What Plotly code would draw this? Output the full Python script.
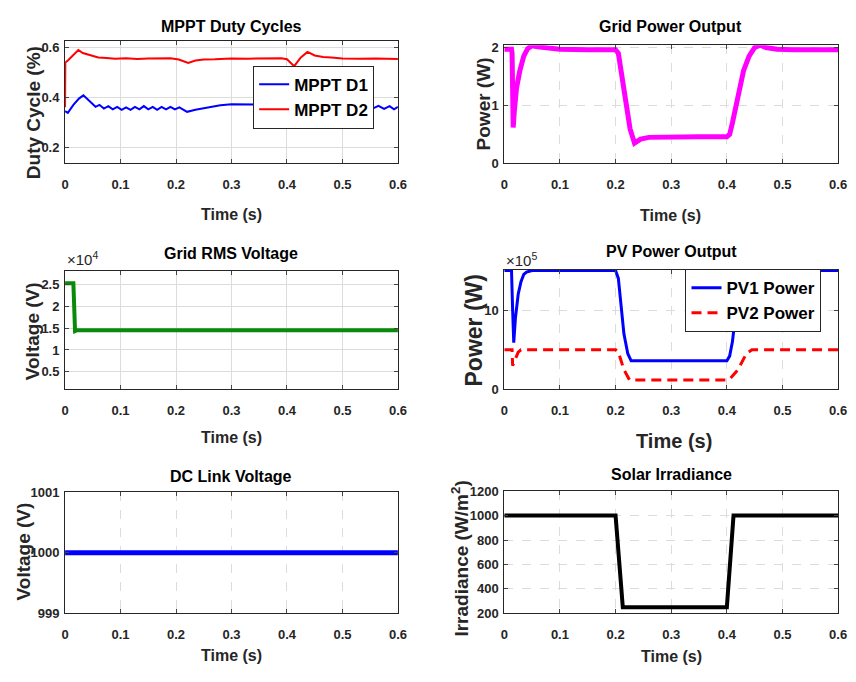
import plotly.graph_objects as go

W, H = 856, 682

# ---------------- data ----------------
t_d1 = [0, 0.005, 0.015, 0.025, 0.033, 0.045, 0.055, 0.062, 0.07, 0.078, 0.086, 0.094, 0.102, 0.11,
        0.118, 0.126, 0.134, 0.142, 0.15, 0.158, 0.166, 0.174, 0.182, 0.19, 0.198, 0.206, 0.214, 0.22,
        0.235, 0.25, 0.265, 0.28, 0.3, 0.32, 0.34, 0.36, 0.38, 0.4, 0.41, 0.42, 0.435, 0.45, 0.47, 0.49,
        0.51, 0.53, 0.545, 0.555, 0.565, 0.575, 0.585, 0.593, 0.6]
d1 = [0.345, 0.338, 0.37, 0.395, 0.408, 0.385, 0.362, 0.37, 0.355, 0.365, 0.352, 0.362, 0.35, 0.36,
      0.35, 0.362, 0.352, 0.365, 0.352, 0.362, 0.35, 0.362, 0.352, 0.362, 0.352, 0.36, 0.35, 0.342,
      0.35, 0.357, 0.363, 0.368, 0.372, 0.372, 0.37, 0.37, 0.372, 0.37, 0.36, 0.372, 0.38, 0.372, 0.368,
      0.365, 0.365, 0.362, 0.37, 0.356, 0.366, 0.354, 0.365, 0.352, 0.362]

t_d2 = [0, 0.0005, 0.005, 0.012, 0.024, 0.032, 0.04, 0.05, 0.06, 0.075, 0.09, 0.11, 0.13, 0.15, 0.17,
        0.19, 0.205, 0.222, 0.235, 0.25, 0.27, 0.3, 0.33, 0.36, 0.39, 0.4, 0.413, 0.425, 0.437, 0.45,
        0.465, 0.48, 0.5, 0.53, 0.56, 0.6]
d2 = [0.36, 0.54, 0.548, 0.565, 0.59, 0.578, 0.572, 0.565, 0.56, 0.558, 0.555, 0.557, 0.554, 0.556,
      0.555, 0.557, 0.552, 0.538, 0.548, 0.552, 0.553, 0.556, 0.555, 0.556, 0.557, 0.553, 0.525, 0.56,
      0.582, 0.568, 0.562, 0.56, 0.556, 0.555, 0.556, 0.554]

t_grid = [0, 0.013, 0.014, 0.016, 0.018, 0.022, 0.028, 0.035, 0.042, 0.05, 0.06, 0.08, 0.1, 0.15, 0.2,
          0.205, 0.21, 0.218, 0.226, 0.234, 0.245, 0.26, 0.3, 0.35, 0.4, 0.405, 0.41, 0.42, 0.43, 0.44,
          0.45, 0.46, 0.47, 0.49, 0.52, 0.6]
p_grid = [1.97, 1.97, 1.9, 0.62, 0.9, 1.3, 1.6, 1.85, 1.98, 2.03, 2.01, 1.98, 1.97, 1.96, 1.96, 1.9,
          1.6, 1.1, 0.6, 0.35, 0.42, 0.45, 0.46, 0.46, 0.46, 0.5, 0.7, 1.2, 1.6, 1.85, 2.0, 2.04, 2.0,
          1.97, 1.96, 1.96]

t_rms = [0, 0.015, 0.018, 0.022, 0.6]
v_rms = [2.52, 2.52, 1.43, 1.45, 1.45]

t_pv1 = [0, 0.013, 0.015, 0.017, 0.02, 0.025, 0.03, 0.035, 0.04, 0.05, 0.1, 0.2, 0.205, 0.21, 0.215,
         0.222, 0.228, 0.24, 0.3, 0.4, 0.405, 0.41, 0.415, 0.42, 0.43, 0.44, 0.447, 0.5, 0.6]
p_pv1 = [15, 15, 10, 5.9, 9, 12, 13.6, 14.5, 14.8, 15, 15, 15, 14, 10.5, 7, 4.5, 3.6, 3.6, 3.6, 3.6,
         4.2, 6, 9, 11, 13.5, 14.6, 15, 15, 15]

t_pv2 = [0, 0.014, 0.015, 0.02, 0.025, 0.03, 0.2, 0.205, 0.215, 0.225, 0.4, 0.405, 0.42, 0.435, 0.445, 0.6]
p_pv2 = [5, 5, 3.0, 3.8, 4.7, 5, 5, 4.7, 2.5, 1.2, 1.2, 1.3, 2.5, 4.5, 5, 5]

t_dc = [0, 0.6]
v_dc = [1000, 1000]

t_irr = [0, 0.2, 0.213, 0.4, 0.412, 0.6]
irr = [1000, 1000, 250, 250, 1000, 1000]

x_ticks = [0, 0.1, 0.2, 0.3, 0.4, 0.5, 0.6]
x_ticklabels = ["0", "0.1", "0.2", "0.3", "0.4", "0.5", "0.6"]

# ---------------- layout helpers ----------------
FONT = "Liberation Sans, Arial"


def px(x):
    return x / W


def py(y):
    return 1 - y / H


# axes boxes in pixels: (x0, x1, ytop, ybottom)
boxes = {
    1: (62, 400, 35, 160),
    2: (508, 847, 39, 160),
    3: (62, 400, 270, 391),
    4: (508, 847, 269, 391),
    5: (62, 400, 496, 620),
    6: (508, 847, 495, 620),
}

fig = go.Figure()

fig.add_trace(go.Scatter(x=t_d1, y=d1, mode="lines", name="MPPT D1",
                         line=dict(color="#0000FF", width=2), xaxis="x", yaxis="y", legend="legend"))
fig.add_trace(go.Scatter(x=t_d2, y=d2, mode="lines", name="MPPT D2",
                         line=dict(color="#FF0000", width=2), xaxis="x", yaxis="y", legend="legend"))
fig.add_trace(go.Scatter(x=t_grid, y=p_grid, mode="lines", name="Grid Power", showlegend=False,
                         line=dict(color="#FF00FF", width=5), xaxis="x2", yaxis="y2"))
fig.add_trace(go.Scatter(x=t_rms, y=v_rms, mode="lines", name="Grid RMS", showlegend=False,
                         line=dict(color="#0A8A0A", width=4), xaxis="x3", yaxis="y3"))
fig.add_trace(go.Scatter(x=t_pv1, y=p_pv1, mode="lines", name="PV1 Power",
                         line=dict(color="#0000FF", width=3), xaxis="x4", yaxis="y4", legend="legend2"))
fig.add_trace(go.Scatter(x=t_pv2, y=p_pv2, mode="lines", name="PV2 Power",
                         line=dict(color="#FF0000", width=3, dash="10px,6px"), xaxis="x4", yaxis="y4",
                         legend="legend2"))
fig.add_trace(go.Scatter(x=t_dc, y=v_dc, mode="lines", name="DC Link", showlegend=False,
                         line=dict(color="#0000FF", width=5), xaxis="x5", yaxis="y5"))
fig.add_trace(go.Scatter(x=t_irr, y=irr, mode="lines", name="Irradiance", showlegend=False,
                         line=dict(color="#000000", width=4), xaxis="x6", yaxis="y6"))

yconf = {
    1: dict(range=[0.135, 0.625], tickvals=[0.2, 0.4, 0.6], ticktext=["0.2", "0.4", "0.6"], griddash="solid"),
    2: dict(range=[0, 2.04], tickvals=[0, 1, 2], ticktext=["0", "1", "2"], griddash="dash"),
    3: dict(range=[0.1, 2.8], tickvals=[0.5, 1, 1.5, 2, 2.5], ticktext=["0.5", "1", "1.5", "2", "2.5"], griddash="solid"),
    4: dict(range=[0, 15.05], tickvals=[0, 10], ticktext=["0", "10"], griddash="dash"),
    5: dict(range=[999, 1001], tickvals=[999, 1000, 1001], ticktext=["999", "1000", "1001"], griddash="dash"),
    6: dict(range=[200, 1200], tickvals=[200, 400, 600, 800, 1000, 1200],
            ticktext=["200", "400", "600", "800", "1000", "1200"], griddash="dash"),
}
xgriddash = {1: "solid", 2: "dash", 3: "solid", 4: "dash", 5: "dash", 6: "dash"}

tickfont = dict(family=FONT, size=13, color="#262626", weight="bold")

layout = dict(
    width=W, height=H, margin=dict(l=0, r=0, t=0, b=0),
    paper_bgcolor="white", plot_bgcolor="white", showlegend=True,
)

for i, (x0, x1, yt, yb) in boxes.items():
    sx = "" if i == 1 else str(i)
    yc = yconf[i]
    layout["xaxis" + sx] = dict(
        domain=[px(x0), px(x1)], anchor="y" + sx, range=[0, 0.6],
        tickvals=x_ticks, ticktext=x_ticklabels, ticks="inside", ticklen=4,
        showline=True, mirror="ticks", linecolor="#262626", linewidth=1,
        showgrid=True, gridcolor="#DCDCDC", gridwidth=1, griddash=xgriddash[i],
        zeroline=False, tickfont=tickfont, ticklabelstandoff=9, fixedrange=True,
    )
    layout["yaxis" + sx] = dict(
        domain=[py(yb), py(yt)], anchor="x" + sx, range=yc["range"],
        tickvals=yc["tickvals"], ticktext=yc["ticktext"], ticks="inside", ticklen=4,
        showline=True, mirror="ticks", linecolor="#262626", linewidth=1,
        showgrid=(i != 5), gridcolor="#DCDCDC", gridwidth=1, griddash=yc["griddash"],
        zeroline=False, tickfont=tickfont, ticklabelstandoff=2, fixedrange=True,
    )

legfont = dict(family=FONT, size=17, color="#000000", weight="bold")
layout["legend"] = dict(
    x=px(253), y=py(60), xanchor="left", yanchor="top", xref="paper", yref="paper",
    bgcolor="white", bordercolor="#262626", borderwidth=1, font=legfont,
)
layout["legend2"] = dict(
    x=px(692), y=py(268), xanchor="left", yanchor="top", xref="paper", yref="paper",
    bgcolor="white", bordercolor="#262626", borderwidth=1, font=legfont,
)

ann = []


def text(x, y, s, size, angle=0, bold=True, color="#000000", xanchor="center"):
    ann.append(dict(
        x=px(x), y=py(y), xref="paper", yref="paper", text=s, showarrow=False,
        textangle=angle, xanchor=xanchor, yanchor="middle",
        font=dict(family=FONT, size=size, color=color, weight="bold" if bold else "normal"),
    ))


# titles
text(231, 20, "MPPT Duty Cycles", 16)
text(677, 20, "Grid Power Output", 16)
text(231, 252, "Grid RMS Voltage", 16)
text(678, 250, "PV Power Output", 16)
text(231, 480, "DC Link Voltage", 16)
text(678, 478, "Solar Irradiance", 16)

# x titles
text(231, 212, "Time (s)", 16, color="#262626")
text(677, 213, "Time (s)", 16, color="#262626")
text(231, 440, "Time (s)", 16, color="#262626")
text(680, 444, "Time (s)", 20, color="#262626")
text(231, 663, "Time (s)", 16, color="#262626")
text(678, 664, "Time (s)", 16, color="#262626")

# y titles
text(30, 108, "Duty Cycle (%)", 19, angle=-90, color="#262626")
text(487, 99, "Power (W)", 19, angle=-90, color="#262626")
text(29, 332, "Voltage (V)", 19, angle=-90, color="#262626")
text(477, 331, "Power (W)", 23, angle=-90, color="#262626")
text(20, 557, "Voltage (V)", 19, angle=-90, color="#262626")
text(463, 564, "Irradiance (W/m<sup>2</sup>)", 19, angle=-90, color="#262626")

# exponent labels
text(62, 257, "×10<sup>4</sup>", 15, bold=False, color="#262626", xanchor="left")
text(508, 258, "×10<sup>5</sup>", 15, bold=False, color="#262626", xanchor="left")

layout["annotations"] = ann
fig.update_layout(**layout)

fig.write_html("out.html")
